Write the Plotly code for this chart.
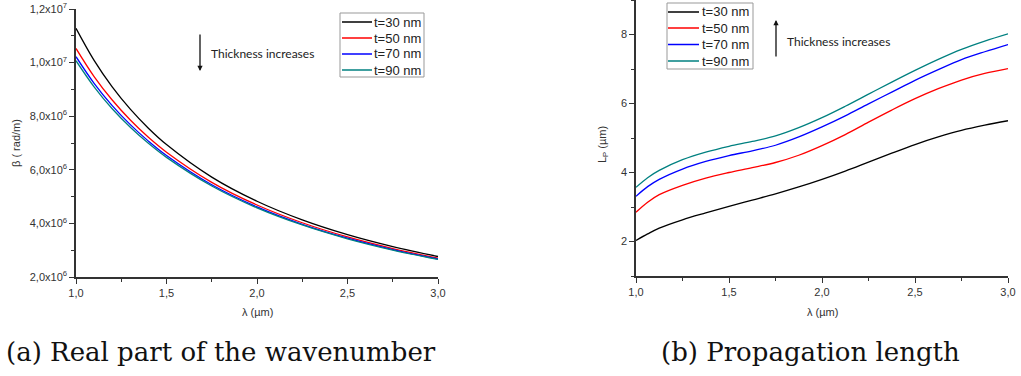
import plotly.graph_objects as go

# ---------------- data ----------------
series_names = ["t=30 nm", "t=50 nm", "t=70 nm", "t=90 nm"]
series_colors = ["#000000", "#ff0000", "#0000ff", "#008080"]

# (a) real part of the wavenumber, beta (rad/m)
wavelength_beta = [1.0, 1.1, 1.2, 1.3, 1.4, 1.5, 1.75, 2.0, 2.25, 2.5, 2.75, 3.0]
beta_t30 = [1.128e7, 1.0084e7, 9.095e6, 8.263e6, 7.553e6, 6.942e6, 5.727e6, 4.826e6, 4.131e6, 3.580e6, 3.134e6, 2.765e6]
beta_t50 = [1.053e7, 9.479e6, 8.604e6, 7.858e6, 7.213e6, 6.657e6, 5.532e6, 4.686e6, 4.024e6, 3.494e6, 3.062e6, 2.704e6]
beta_t70 = [1.022e7, 9.227e6, 8.395e6, 7.685e6, 7.070e6, 6.532e6, 5.441e6, 4.614e6, 3.966e6, 3.448e6, 3.024e6, 2.671e6]
beta_t90 = [1.007e7, 9.096e6, 8.276e6, 7.585e6, 6.987e6, 6.463e6, 5.395e6, 4.580e6, 3.941e6, 3.426e6, 3.006e6, 2.654e6]

# (b) propagation length L_P (um)
wavelength_lp = [1.0, 1.0625, 1.125, 1.25, 1.375, 1.5, 1.625, 1.75, 1.875, 2.0,
                 2.125, 2.25, 2.375, 2.5, 2.625, 2.75, 2.875, 3.0]
lp_t30 = [2.03, 2.22, 2.39, 2.63, 2.83, 3.02, 3.20, 3.38, 3.58, 3.80, 4.04, 4.30, 4.56, 4.81, 5.03, 5.22, 5.37, 5.50]
lp_t50 = [2.85, 3.14, 3.36, 3.63, 3.84, 4.00, 4.14, 4.29, 4.50, 4.78, 5.10, 5.46, 5.81, 6.14, 6.43, 6.68, 6.87, 7.01]
lp_t70 = [3.31, 3.59, 3.80, 4.10, 4.32, 4.49, 4.63, 4.79, 5.03, 5.32, 5.64, 5.99, 6.33, 6.67, 6.98, 7.27, 7.50, 7.71]
lp_t90 = [3.57, 3.85, 4.06, 4.37, 4.59, 4.76, 4.90, 5.06, 5.30, 5.59, 5.92, 6.27, 6.62, 6.96, 7.28, 7.57, 7.81, 8.02]

x_tickvals = [1.0, 1.5, 2.0, 2.5, 3.0]
x_ticktext = ["1,0", "1,5", "2,0", "2,5", "3,0"]
beta_tickvals = [2e6, 4e6, 6e6, 8e6, 1e7, 1.2e7]
beta_ticktext = ["2,0x10<sup>6</sup>", "4,0x10<sup>6</sup>", "6,0x10<sup>6</sup>",
                 "8,0x10<sup>6</sup>", "1,0x10<sup>7</sup>", "1,2x10<sup>7</sup>"]
lp_tickvals = [2, 4, 6, 8]
lp_ticktext = ["2", "4", "6", "8"]

beta_series = [beta_t30, beta_t50, beta_t70, beta_t90]
lp_series = [lp_t30, lp_t50, lp_t70, lp_t90]

# ---------------- figure ----------------
W, H = 1021, 376
fig = go.Figure()

for name, color, ys in zip(series_names, series_colors, beta_series):
    fig.add_trace(go.Scatter(x=wavelength_beta, y=ys, name=name, mode="lines",
                             line=dict(color=color, width=1.3, shape="spline", smoothing=1.0),
                             xaxis="x", yaxis="y", showlegend=False))
for name, color, ys in zip(series_names, series_colors, lp_series):
    fig.add_trace(go.Scatter(x=wavelength_lp, y=ys, name=name, mode="lines",
                             line=dict(color=color, width=1.3, shape="spline", smoothing=1.0),
                             xaxis="x2", yaxis="y2", showlegend=False))


def px_x(p):
    return p / W


def px_y(p):
    return 1 - p / H


tick_font = dict(family="Liberation Sans, Arial, sans-serif", size=11, color="#333333")
axis_common = dict(showline=True, linecolor="#333333", linewidth=1.5, showgrid=False,
                   zeroline=False, ticks="outside", ticklen=5, tickwidth=1.2,
                   tickcolor="#333333", tickfont=tick_font, fixedrange=True,
                   automargin=False)
minor_common = dict(ticks="outside", ticklen=3, tickwidth=1.1, tickcolor="#333333",
                    showgrid=False)

fig.update_layout(
    template="none",
    width=W, height=H,
    margin=dict(l=0, r=0, t=0, b=0, autoexpand=False),
    paper_bgcolor="white", plot_bgcolor="white",
    showlegend=False,
    xaxis=dict(domain=[px_x(76), px_x(438)], range=[1.0, 3.0], anchor="y",
               tickmode="array", tickvals=x_tickvals, ticktext=x_ticktext,
               minor=dict(tickmode="linear", tick0=1.0, dtick=0.25, **minor_common),
               **axis_common),
    yaxis=dict(domain=[px_y(277), px_y(9)], range=[2e6, 1.2e7], anchor="x",
               tickmode="array", tickvals=beta_tickvals, ticktext=beta_ticktext,
               minor=dict(tickmode="linear", tick0=2e6, dtick=1e6, **minor_common),
               **axis_common),
    xaxis2=dict(domain=[px_x(636), px_x(1008)], range=[1.0, 3.0], anchor="y2",
                tickmode="array", tickvals=x_tickvals, ticktext=x_ticktext,
                minor=dict(tickmode="linear", tick0=1.0, dtick=0.25, **minor_common),
                **axis_common),
    yaxis2=dict(domain=[px_y(276), 1.0], range=[1, 9], anchor="x2",
                tickmode="array", tickvals=lp_tickvals, ticktext=lp_ticktext,
                minor=dict(tickmode="linear", tick0=1, dtick=1, **minor_common),
                **axis_common),
)

label_font = dict(family="Liberation Sans, Arial, sans-serif", size=11, color="#333333")
note_font = dict(family="Lato, sans-serif", size=12, color="#222222")
caption_font = dict(family="DejaVu Serif, Liberation Serif, serif", size=26, color="#111111")
legend_font = dict(family="Liberation Sans, Arial, sans-serif", size=13, color="#222222")

annotations = [
    # axis titles
    dict(text="λ (µm)", x=px_x(257), y=px_y(312), xref="paper", yref="paper",
         showarrow=False, font=label_font, xanchor="center", yanchor="middle"),
    dict(text="λ (µm)", x=px_x(822), y=px_y(312), xref="paper", yref="paper",
         showarrow=False, font=label_font, xanchor="center", yanchor="middle"),
    dict(text="β ( rad/m)", x=px_x(16), y=px_y(143), xref="paper", yref="paper",
         showarrow=False, font=label_font, textangle=-90, xanchor="center", yanchor="middle"),
    dict(text="L<sub>P</sub> (µm)", x=px_x(603), y=px_y(145), xref="paper", yref="paper",
         showarrow=False, font=label_font, textangle=-90, xanchor="center", yanchor="middle"),
    # thickness notes
    dict(text="Thickness increases", x=px_x(209), y=px_y(54), xref="paper", yref="paper",
         showarrow=False, font=note_font, xanchor="left", yanchor="middle"),
    dict(text="", x=px_x(200), y=px_y(71), xref="paper", yref="paper",
         ax=0, ay=-38, showarrow=True, arrowhead=2, arrowsize=0.8, arrowwidth=1.3,
         arrowcolor="#111111"),
    dict(text="Thickness increases", x=px_x(785), y=px_y(42), xref="paper", yref="paper",
         showarrow=False, font=note_font, xanchor="left", yanchor="middle"),
    dict(text="", x=px_x(776), y=px_y(20), xref="paper", yref="paper",
         ax=0, ay=38, showarrow=True, arrowhead=2, arrowsize=0.8, arrowwidth=1.3,
         arrowcolor="#111111"),
    # captions
    dict(text="(a) Real part of the wavenumber", x=px_x(221), y=px_y(352), xref="paper",
         yref="paper", showarrow=False, font=caption_font, xanchor="center", yanchor="middle"),
    dict(text="(b) Propagation length", x=px_x(810), y=px_y(352), xref="paper",
         yref="paper", showarrow=False, font=caption_font, xanchor="center", yanchor="middle"),
]

shapes = []


def add_legend(box, line_x0, line_x1, text_x, row_ys):
    x0, y0, x1, y1 = box
    shapes.append(dict(type="rect", xref="paper", yref="paper",
                       x0=px_x(x0), x1=px_x(x1), y0=px_y(y1), y1=px_y(y0),
                       line=dict(color="#999999", width=1), fillcolor="white", layer="above"))
    for name, color, ry in zip(series_names, series_colors, row_ys):
        shapes.append(dict(type="line", xref="paper", yref="paper",
                           x0=px_x(line_x0), x1=px_x(line_x1), y0=px_y(ry), y1=px_y(ry),
                           line=dict(color=color, width=1.5), layer="above"))
        annotations.append(dict(text=name, x=px_x(text_x), y=px_y(ry), xref="paper",
                                yref="paper", showarrow=False, font=legend_font,
                                xanchor="left", yanchor="middle"))


add_legend((340, 13, 424, 77), 342, 372, 372, [22, 38, 54, 70])
add_legend((667, 3, 753, 69), 668, 699, 700, [12, 28, 44.5, 61])

fig.update_layout(annotations=annotations, shapes=shapes)

fig.write_html("out.html")
